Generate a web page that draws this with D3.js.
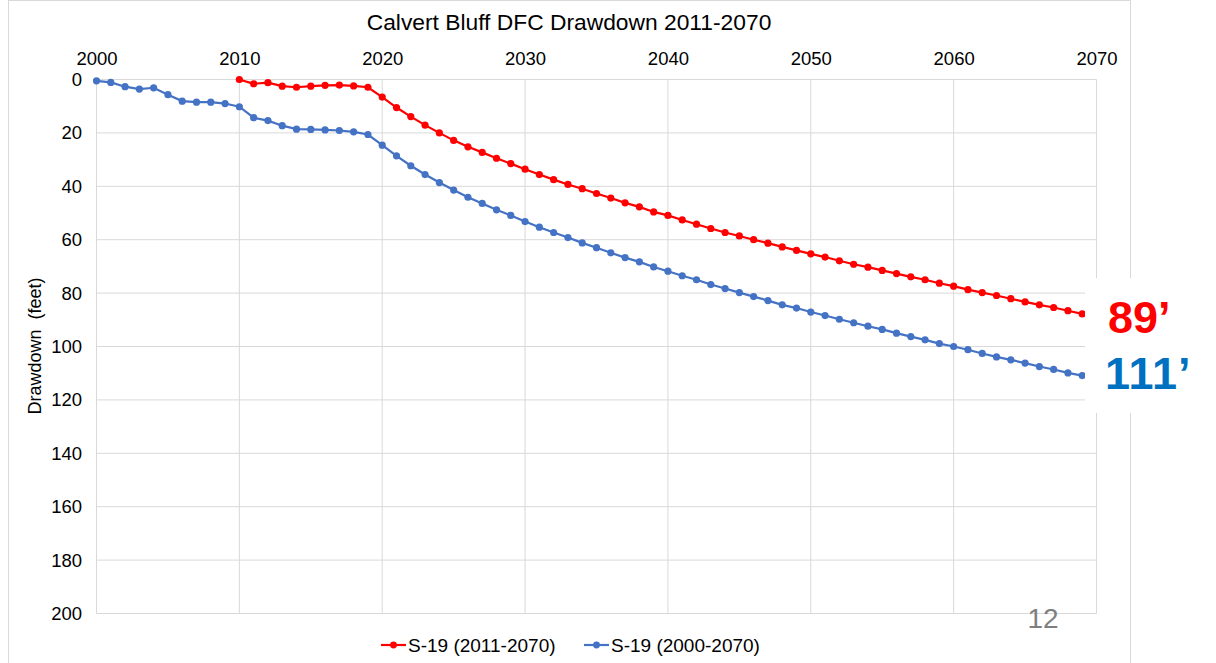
<!DOCTYPE html>
<html lang="en">
<head>
<meta charset="utf-8">
<title>Calvert Bluff DFC Drawdown 2011-2070</title>
<script src="https://cdn.jsdelivr.net/npm/d3@7"></script>
<style>
body { margin: 0; background: #fff; font-family: "Liberation Sans", Arial, sans-serif; }
svg { display: block; }
.tick line { display: none; }
.domain { display: none; }
</style>
</head>
<body>
<div id="chart"></div>
<script>
// data
var yearsLong = d3.range(2000, 2070);   // 2000..2069
var yearsShort = d3.range(2010, 2070);  // 2010..2069

var drawdownLong = [0.5, 1.1, 2.7, 3.6, 3.1, 5.7, 8.1, 8.5, 8.5, 9.0,
  10.2, 14.3, 15.4, 17.3, 18.6, 18.7, 18.9, 19.1, 19.6, 20.6,
  24.6, 28.6, 32.3, 35.6, 38.6, 41.4, 44.1, 46.4, 48.8, 50.9,
  53.2, 55.3, 57.3, 59.2, 61.2, 63.0, 64.9, 66.7, 68.3, 70.2,
  71.8, 73.5, 75.0, 76.8, 78.3, 79.8, 81.3, 82.8, 84.4, 85.6,
  87.1, 88.4, 89.8, 91.1, 92.4, 93.6, 95.0, 96.3, 97.5, 98.9,
  100.0, 101.2, 102.6, 103.9, 105.0, 106.2, 107.5, 108.6, 109.9, 110.9];

var drawdownShort = [0, 1.6, 1.2, 2.5, 2.9, 2.5, 2.2, 2.1, 2.4, 2.9,
  6.6, 10.5, 13.9, 17.1, 20.0, 22.8, 25.2, 27.3, 29.5, 31.5,
  33.6, 35.6, 37.5, 39.3, 40.9, 42.7, 44.4, 46.2, 47.7, 49.6,
  50.9, 52.6, 54.2, 55.8, 57.3, 58.6, 60.0, 61.3, 62.7, 64.0,
  65.3, 66.5, 67.9, 69.2, 70.3, 71.5, 72.7, 73.9, 75.0, 76.3,
  77.4, 78.7, 79.8, 80.9, 82.1, 83.3, 84.4, 85.4, 86.6, 87.8];

var seriesNames = ["S-19 (2011-2070)", "S-19 (2000-2070)"];
var seriesColors = ["#ff0000", "#4472c4"];
var endLabels = ["89\u2019", "111\u2019"];
var endColors = ["#ff0000", "#0070c0"];

var xTicks = d3.range(2000, 2071, 10);
var yTicks = d3.range(0, 201, 20);

var W = 1216, H = 663;
var svg = d3.select("#chart").append("svg").attr("width", W).attr("height", H);

// chart frame
svg.append("rect")
  .attr("x", 8.5).attr("y", 0.5).attr("width", 1122).attr("height", 680)
  .attr("fill", "#fff").attr("stroke", "#d9d9d9");

var x = d3.scaleLinear().domain([2000, 2070]).range([96.5, 1096.5]);
var y = d3.scaleLinear().domain([0, 200]).range([79.5, 613.5]);

// gridlines
svg.append("g").selectAll("line").data(yTicks).enter().append("line")
  .attr("x1", x(2000)).attr("x2", x(2070))
  .attr("y1", function(d) { return y(d); }).attr("y2", function(d) { return y(d); })
  .attr("stroke", "#d9d9d9").attr("stroke-width", 1);
svg.append("g").selectAll("line").data(xTicks).enter().append("line")
  .attr("y1", y(0)).attr("y2", y(200))
  .attr("x1", function(d) { return x(d); }).attr("x2", function(d) { return x(d); })
  .attr("stroke", "#d9d9d9").attr("stroke-width", 1);

// axes
var xAxis = svg.append("g").attr("transform", "translate(0," + 68 + ")")
  .call(d3.axisTop(x).tickValues(xTicks).tickFormat(d3.format("d")).tickSize(0));
xAxis.selectAll("text").attr("font-size", "18.5px").attr("fill", "#000")
  .attr("font-family", "Liberation Sans, Arial, sans-serif");

var yAxis = svg.append("g").attr("transform", "translate(" + 82 + ",0)")
  .call(d3.axisLeft(y).tickValues(yTicks).tickSize(0).tickPadding(0));
yAxis.selectAll("text").attr("font-size", "18.5px").attr("fill", "#000")
  .attr("font-family", "Liberation Sans, Arial, sans-serif");

// title
svg.append("text").attr("x", 569).attr("y", 30).attr("text-anchor", "middle")
  .attr("font-size", "22.8px").text("Calvert Bluff DFC Drawdown 2011-2070");

// y axis title
svg.append("text")
  .attr("transform", "translate(41," + 346 + ") rotate(-90)")
  .attr("text-anchor", "middle").attr("font-size", "18px")
  .style("white-space", "pre")
  .text("Drawdown  (feet)");

// series
var series = [
  { name: seriesNames[0], color: seriesColors[0], years: yearsShort, vals: drawdownShort },
  { name: seriesNames[1], color: seriesColors[1], years: yearsLong, vals: drawdownLong }
];

var line = d3.line()
  .x(function(d) { return x(d[0]); })
  .y(function(d) { return y(d[1]); });

series.forEach(function(s) {
  var pts = d3.zip(s.years, s.vals);
  svg.append("path").datum(pts)
    .attr("d", line).attr("fill", "none")
    .attr("stroke", s.color).attr("stroke-width", 2.2);
  svg.append("g").selectAll("circle").data(pts).enter().append("circle")
    .attr("cx", function(d) { return x(d[0]); })
    .attr("cy", function(d) { return y(d[1]); })
    .attr("r", 3.6).attr("fill", s.color);
});

// white box behind end labels
svg.append("rect").attr("x", 1085).attr("y", 278).attr("width", 131).attr("height", 135)
  .attr("fill", "#fff");

svg.append("text").attr("x", 1108).attr("y", 333)
  .attr("font-size", "45px").attr("font-weight", "bold").attr("fill", endColors[0])
  .text(endLabels[0]);
svg.append("text").attr("x", 1105).attr("y", 389)
  .attr("font-size", "45px").attr("font-weight", "bold").attr("fill", endColors[1])
  .attr("letter-spacing", "1px")
  .text(endLabels[1]);

// page number
svg.append("text").attr("x", 1043).attr("y", 628).attr("text-anchor", "middle")
  .attr("font-size", "28px").attr("fill", "#7f7f7f").text("12");

// legend
var legendX = [381, 584];
var legend = svg.append("g").selectAll("g").data(series).enter().append("g")
  .attr("transform", function(d, i) { return "translate(" + legendX[i] + ",645)"; });
legend.append("line").attr("x1", 0).attr("x2", 25).attr("y1", 0).attr("y2", 0)
  .attr("stroke", function(d) { return d.color; }).attr("stroke-width", 2.2);
legend.append("circle").attr("cx", 12.5).attr("cy", 0).attr("r", 3.4)
  .attr("fill", function(d) { return d.color; });
legend.append("text").attr("x", 27).attr("y", 0).attr("dy", "0.35em")
  .attr("font-size", "19px").text(function(d) { return d.name; });
</script>
</body>
</html>
